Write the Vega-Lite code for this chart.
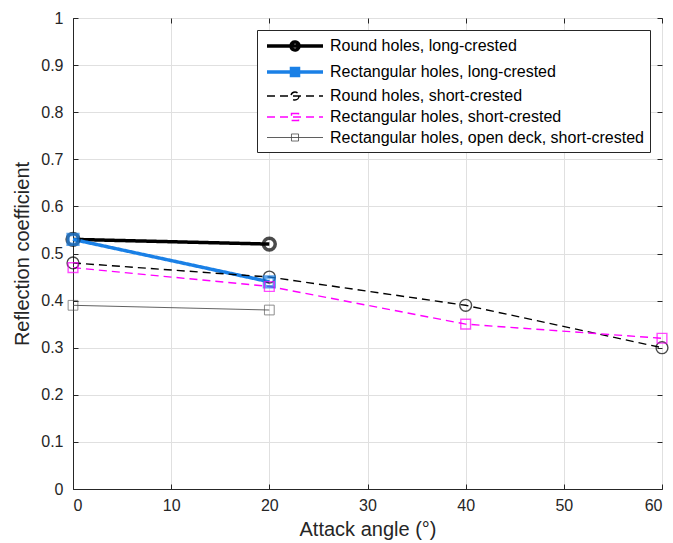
{
  "$schema": "https://vega.github.io/schema/vega-lite/v6.json",
  "width": 589,
  "height": 471,
  "autosize": "none",
  "padding": {"left": 73, "top": 18, "right": 11, "bottom": 54},
  "background": "white",
  "config": {
    "font": "Liberation Sans",
    "view": {"stroke": "#262626", "strokeWidth": 1},
    "axis": {
      "domainColor": "#262626",
      "tickColor": "#262626",
      "labelColor": "#262626",
      "titleColor": "#262626",
      "gridColor": "#e0e0e0",
      "labelFontSize": 16,
      "titleFontSize": 20,
      "titleFontWeight": "normal",
      "tickSize": -5
    }
  },
  "data": {
    "values": [
      {"series": "Round holes, long-crested", "marker": "circle", "angle": 0, "value": 0.53},
      {"series": "Round holes, long-crested", "marker": "circle", "angle": 20, "value": 0.52},
      {"series": "Rectangular holes, long-crested", "marker": "square", "angle": 0, "value": 0.53},
      {"series": "Rectangular holes, long-crested", "marker": "square", "angle": 20, "value": 0.44},
      {"series": "Round holes, short-crested", "marker": "circle", "angle": 0, "value": 0.48},
      {"series": "Round holes, short-crested", "marker": "circle", "angle": 20, "value": 0.45},
      {"series": "Round holes, short-crested", "marker": "circle", "angle": 40, "value": 0.39},
      {"series": "Round holes, short-crested", "marker": "circle", "angle": 60, "value": 0.30},
      {"series": "Rectangular holes, short-crested", "marker": "square", "angle": 0, "value": 0.47},
      {"series": "Rectangular holes, short-crested", "marker": "square", "angle": 20, "value": 0.43},
      {"series": "Rectangular holes, short-crested", "marker": "square", "angle": 40, "value": 0.35},
      {"series": "Rectangular holes, short-crested", "marker": "square", "angle": 60, "value": 0.32},
      {"series": "Rectangular holes, open deck, short-crested", "marker": "square", "angle": 0, "value": 0.39},
      {"series": "Rectangular holes, open deck, short-crested", "marker": "square", "angle": 20, "value": 0.38}
    ]
  },
  "resolve": {"axis": {"x": "independent", "y": "independent"}},
  "layer": [
    {
      "mark": {"type": "line", "clip": false},
      "encoding": {
        "x": {
          "field": "angle", "type": "quantitative",
          "scale": {"domain": [0, 60], "nice": false},
          "axis": {"title": "Attack angle (°)", "values": [0, 10, 20, 30, 40, 50, 60], "labelPadding": 13, "titlePadding": 6}
        },
        "y": {
          "field": "value", "type": "quantitative",
          "scale": {"domain": [0, 1], "nice": false},
          "axis": {"title": "Reflection coefficient", "values": [0, 0.1, 0.2, 0.3, 0.4, 0.5, 0.6, 0.7, 0.8, 0.9, 1], "format": ".1~f", "labelPadding": 15, "titlePadding": 8}
        },
        "color": {
          "field": "series", "type": "nominal",
          "scale": {
            "domain": ["Round holes, long-crested", "Rectangular holes, long-crested", "Round holes, short-crested", "Rectangular holes, short-crested", "Rectangular holes, open deck, short-crested"],
            "range": ["#000000", "#1a80e6", "#000000", "#ff00ff", "#4d4d4d"]
          },
          "legend": {
            "title": null,
            "orient": "top-right",
            "offset": 12,
            "padding": 6,
            "strokeColor": "#262626",
            "fillColor": "white",
            "labelFontSize": 16,
            "labelColor": "#000000",
            "labelLimit": 500,
            "symbolSize": 256,
            "symbolType": "M-3.5,0L3.5,0",
            "symbolOffset": 22,
            "rowPadding": 4,
            "labelOffset": 25,
            "encode": {
              "symbols": {
                "update": {
                  "shape": {"signal": "(datum.index === 0 || datum.index === 2) ? 'M-3.5,0L3.5,0M0.5,0A0.5,0.5 0 1 1 -0.5,0A0.5,0.5 0 1 1 0.5,0' : 'M-3.5,0L3.5,0M-0.44,-0.44L0.44,-0.44L0.44,0.44L-0.44,0.44Z'"}
                }
              }
            }
          }
        },
        "strokeDash": {
          "field": "series", "type": "nominal",
          "scale": {
            "domain": ["Round holes, long-crested", "Rectangular holes, long-crested", "Round holes, short-crested", "Rectangular holes, short-crested", "Rectangular holes, open deck, short-crested"],
            "range": [[1, 0], [1, 0], [8, 5], [8, 5], [1, 0]]
          }
        },
        "strokeWidth": {
          "field": "series", "type": "nominal",
          "scale": {
            "type": "ordinal",
            "domain": ["Round holes, long-crested", "Rectangular holes, long-crested", "Round holes, short-crested", "Rectangular holes, short-crested", "Rectangular holes, open deck, short-crested"],
            "range": [3.5, 3.5, 1.4, 1.4, 0.9]
          }
        }
      }
    },
    {
      "transform": [{"filter": "datum.marker === 'circle'"}],
      "mark": {"type": "point", "shape": "circle", "filled": false, "clip": false, "size": 140},
      "encoding": {
        "x": {"field": "angle", "type": "quantitative", "axis": null},
        "y": {"field": "value", "type": "quantitative", "axis": null},
        "color": {"field": "series", "type": "nominal", "legend": null},
        "strokeWidth": {
          "field": "series", "type": "nominal", "legend": null,
          "scale": {
            "type": "ordinal",
            "domain": ["Round holes, long-crested", "Rectangular holes, long-crested", "Round holes, short-crested", "Rectangular holes, short-crested", "Rectangular holes, open deck, short-crested"],
            "range": [3.5, 3.5, 1.4, 1.4, 0.9]
          }
        }
      }
    },
    {
      "transform": [{"filter": "datum.marker === 'square'"}],
      "mark": {"type": "point", "shape": "square", "filled": false, "clip": false, "size": 95},
      "encoding": {
        "x": {"field": "angle", "type": "quantitative", "axis": null},
        "y": {"field": "value", "type": "quantitative", "axis": null},
        "color": {"field": "series", "type": "nominal", "legend": null},
        "strokeWidth": {
          "field": "series", "type": "nominal", "legend": null,
          "scale": {
            "type": "ordinal",
            "domain": ["Round holes, long-crested", "Rectangular holes, long-crested", "Round holes, short-crested", "Rectangular holes, short-crested", "Rectangular holes, open deck, short-crested"],
            "range": [3.5, 3.5, 1.4, 1.4, 0.9]
          }
        }
      }
    },
    {
      "mark": {"type": "point", "opacity": 0},
      "encoding": {
        "x": {"field": "angle", "type": "quantitative", "axis": {"orient": "top", "labels": false, "title": null, "grid": false, "domain": false, "values": [0, 10, 20, 30, 40, 50, 60]}},
        "y": {"field": "value", "type": "quantitative", "axis": {"orient": "right", "labels": false, "title": null, "grid": false, "domain": false, "values": [0, 0.1, 0.2, 0.3, 0.4, 0.5, 0.6, 0.7, 0.8, 0.9, 1]}}
      }
    }
  ]
}
